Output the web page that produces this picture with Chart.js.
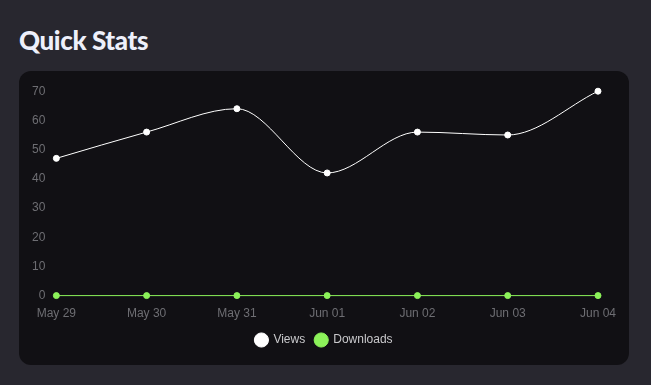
<!DOCTYPE html>
<html>
<head>
<meta charset="utf-8">
<style>
  body { margin: 0; background: #28272f; width: 651px; height: 385px; overflow: hidden; }
  h2 { position: absolute; left: 19px; top: 24px; margin: 0; font-family: Lato, sans-serif; font-weight: 900; font-size: 26px; color: #eef0fb; letter-spacing: -0.4px; }
  .card { position: absolute; left: 19px; top: 71px; width: 610px; height: 294px; background: #111014; border-radius: 12px; }
  .wrap { position: absolute; left: 10px; top: 10px; width: 590px; height: 275px; }
</style>
</head>
<body>
<h2>Quick Stats</h2>
<div class="card">
  <div class="wrap"><canvas id="myChart"></canvas></div>
</div>

<script src="https://cdn.jsdelivr.net/npm/chart.js"></script>
<script>
  var labelDates = ["May 29", "May 30", "May 31", "Jun 01", "Jun 02", "Jun 03", "Jun 04"]
  var views = [47, 56, 64, 42, 56, 55, 70]
  var downloads = [0, 0, 0, 0, 0, 0, 0]

  const ctx = document.getElementById('myChart');
  Chart.defaults.font.family = "'Liberation Sans', Arial, sans-serif";
  Chart.defaults.font.size = 12;

  new Chart(ctx, {
    type: 'line',
    data: {
      labels: labelDates,
      datasets: [{
        label: 'Views',
        data: views,
        borderColor: '#ffffff',
        backgroundColor: '#ffffff',
        borderWidth: 1,
        pointRadius: 3,
        cubicInterpolationMode: 'monotone',
        clip: 8
      }, {
        label: 'Downloads',
        data: downloads,
        borderColor: '#8cf25a',
        backgroundColor: '#8cf25a',
        borderWidth: 1,
        pointRadius: 3,
        cubicInterpolationMode: 'monotone',
        clip: 8
      }]
    },
    options: {
      responsive: true,
      maintainAspectRatio: false,
      animation: false,
      plugins: {
        legend: {
          position: 'bottom',
          labels: { usePointStyle: true, pointStyle: 'circle', boxWidth: 12, boxHeight: 10, color: '#c9c9cc', padding: 10 }
        },
        tooltip: { enabled: false }
      },
      scales: {
        x: {
          grid: { display: false },
          border: { display: false },
          ticks: { color: '#6e6e73' }
        },
        y: {
          beginAtZero: true,
          max: 70,
          grid: { display: false },
          border: { display: false },
          ticks: { color: '#6e6e73', stepSize: 10 }
        }
      }
    }
  });
</script>
</body>
</html>
